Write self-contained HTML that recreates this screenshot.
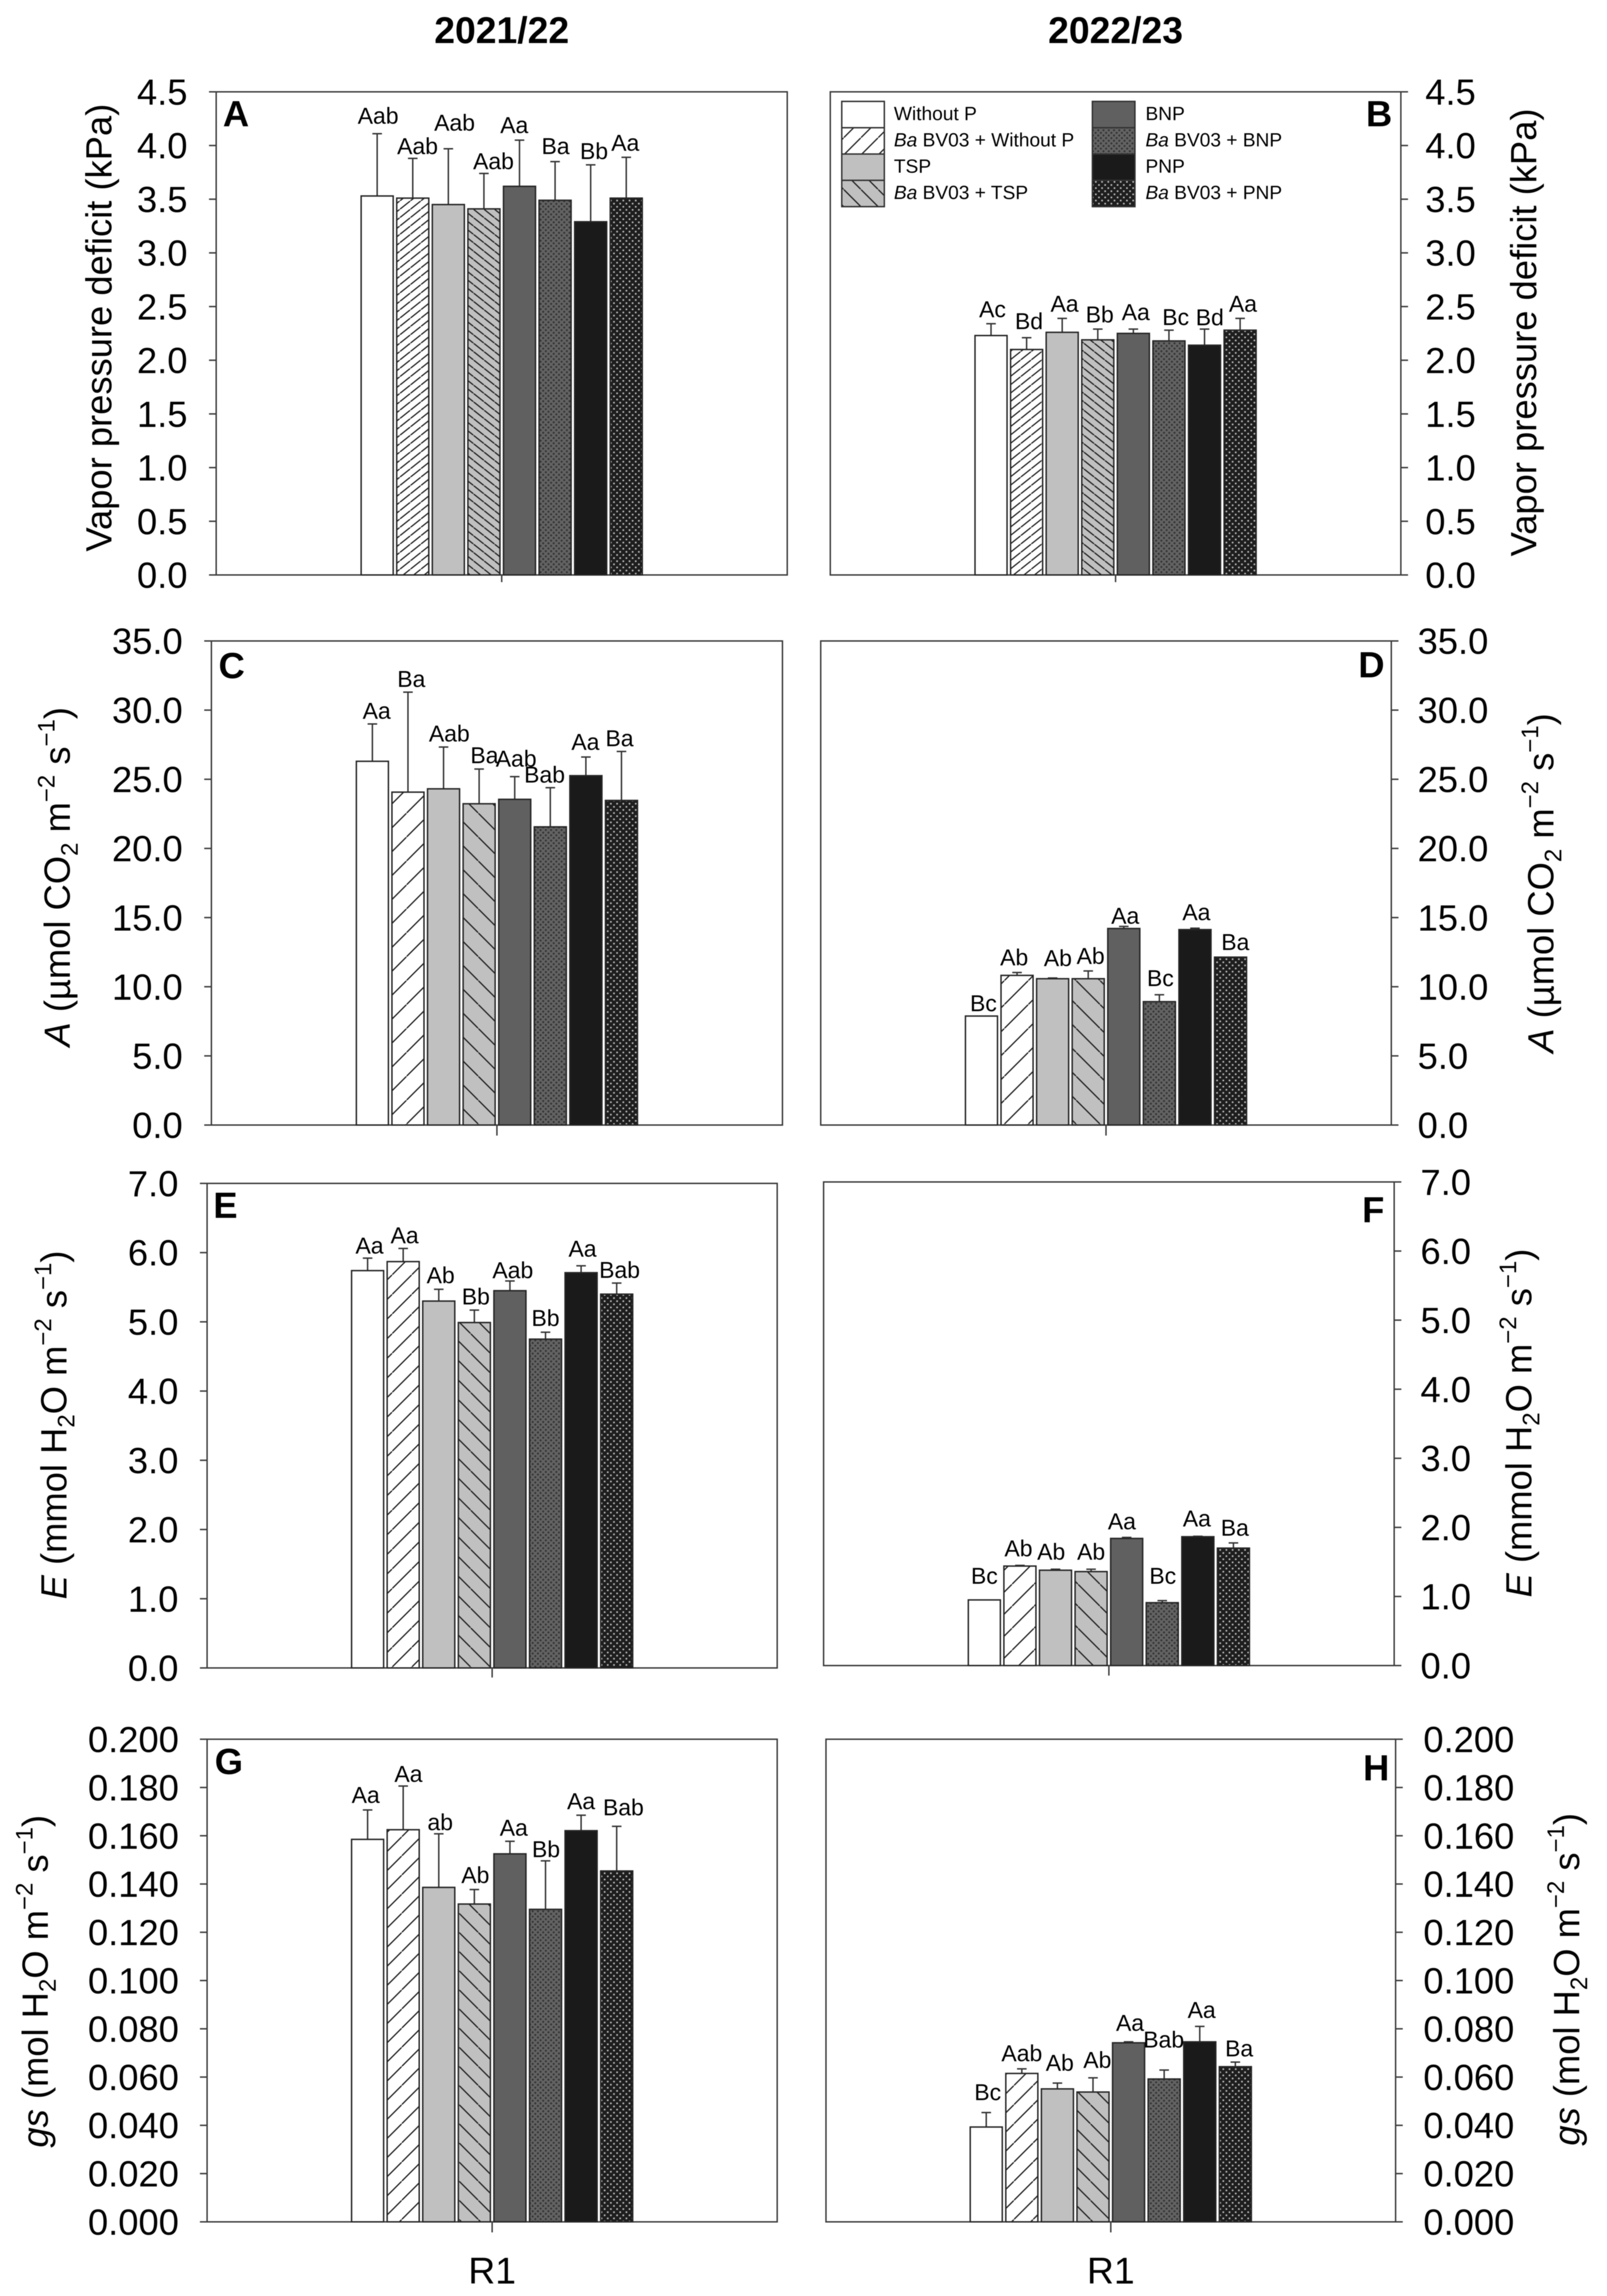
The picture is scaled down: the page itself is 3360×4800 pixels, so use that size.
<!DOCTYPE html>
<html lang="en">
<head>
<meta charset="utf-8">
<title>Vapor pressure deficit, A, E and gs by season</title>
<style>
html,body{margin:0;padding:0;background:#fff;width:3360px;height:4800px;overflow:hidden}
svg{display:block;filter:blur(0.9px)}
text{font-family:"Liberation Sans",Arial,sans-serif;fill:#000}
</style>
</head>
<body>
<svg id="fig" width="3360" height="4800" viewBox="0 0 3360 4800" xmlns="http://www.w3.org/2000/svg"><defs id="defs"></defs></svg>
<script>
/* ---------- DATA ---------- */
const categories = ["Without P","Ba BV03 + Without P","TSP","Ba BV03 + TSP","BNP","Ba BV03 + BNP","PNP","Ba BV03 + PNP"];

const vpdTicks = ["0.0","0.5","1.0","1.5","2.0","2.5","3.0","3.5","4.0","4.5"];
const aTicks   = ["0.0","5.0","10.0","15.0","20.0","25.0","30.0","35.0"];
const eTicks   = ["0.0","1.0","2.0","3.0","4.0","5.0","6.0","7.0"];
const gsTicks  = ["0.000","0.020","0.040","0.060","0.080","0.100","0.120","0.140","0.160","0.180","0.200"];

const valuesA = [3.53,3.51,3.45,3.41,3.62,3.49,3.29,3.51];
const errTopA = [4.11,3.88,3.97,3.74,4.05,3.85,3.82,3.89];
const lettersA = ["Aab","Aab","Aab","Aab","Aa","Ba","Bb","Aa"];

const valuesB = [2.23,2.10,2.26,2.19,2.25,2.18,2.14,2.28];
const errTopB = [2.34,2.21,2.39,2.29,2.29,2.28,2.29,2.39];
const lettersB = ["Ac","Bd","Aa","Bb","Aa","Bc","Bd","Aa"];

const valuesC = [26.3,24.07,24.31,23.23,23.55,21.56,25.26,23.47];
const errTopC = [29.0,31.3,27.33,25.74,25.19,24.39,26.61,27.01];
const lettersC = ["Aa","Ba","Aab","Ba","Aab","Bab","Aa","Ba"];

const valuesD = [7.88,10.82,10.58,10.58,14.21,8.92,14.13,12.14];
const errTopD = [7.88,11.03,10.63,11.14,14.36,9.42,14.23,12.14];
const lettersD = ["Bc","Ab","Ab","Ab","Aa","Bc","Aa","Ba"];

const valuesE = [5.74,5.87,5.30,4.99,5.45,4.75,5.71,5.40];
const errTopE = [5.92,6.06,5.47,5.17,5.59,4.85,5.81,5.56];
const lettersE = ["Aa","Aa","Ab","Bb","Aab","Bb","Aa","Bab"];

const valuesF = [0.95,1.44,1.38,1.36,1.84,0.91,1.865,1.70];
const errTopF = [0.95,1.45,1.394,1.394,1.855,0.94,1.871,1.775];
const lettersF = ["Bc","Ab","Ab","Ab","Aa","Bc","Aa","Ba"];

const valuesG = [0.1585,0.1625,0.1386,0.1317,0.1525,0.1295,0.1621,0.1454];
const errTopG = [0.1707,0.1806,0.1608,0.1377,0.1577,0.1496,0.1685,0.1639];
const lettersG = ["Aa","Aa","ab","Ab","Aa","Bb","Aa","Bab"];

const valuesH = [0.0393,0.0615,0.0551,0.0538,0.0742,0.0592,0.0746,0.0643];
const errTopH = [0.0453,0.0634,0.0575,0.0597,0.0746,0.0629,0.0810,0.0662];
const lettersH = ["Bc","Aab","Ab","Ab","Aa","Bab","Aa","Ba"];

/* ---------- TITLE TEXT ---------- */
const titleVpd = [["Vapor pressure deficit (kPa)"]];
const titleA = [["A","i"],[" (\u00B5mol CO"],["2","sub"],[" m"],["\u22122","sup"],[" s"],["\u22121","sup"],[")"]];
const titleE = [["E","i"],[" (mmol H"],["2","sub"],["O m"],["\u22122","sup"],[" s"],["\u22121","sup"],[")"]];
const titleGs = [["gs","i"],[" (mol H"],["2","sub"],["O m"],["\u22122","sup"],[" s"],["\u22121","sup"],[")"]];

/* ---------- LAYOUT (panel frames, not data) ---------- */
const STEP = 74.4, BAR_W = 67, TICK_LEN = 15;
const panels = [
 {id:"A",season:"2021/22",side:"left", l:452, r:1646,t:192, b:1202,stem:15,max:4.5, ticks:vpdTicks,values:valuesA,errors:errTopA,letters:lettersA,tickX:392, title:titleVpd,titleX:233, titleY:685, hatchS:17.5,hatchW:22,letterX:466, letterY:264, nudge:[[2,-21],[10,-9],[13,-38],[20,-9],[-11,-15],[1,-16],[7,-12],[-2,-14]]},
 {id:"B",season:"2022/23",side:"right",l:1736,r:2929,t:192, b:1202,stem:15,max:4.5, ticks:vpdTicks,values:valuesB,errors:errTopB,letters:lettersB,tickX:2980,title:titleVpd,titleX:3212,titleY:695, hatchS:17.5,hatchW:22,letterX:2856,letterY:264, nudge:[[3,-14],[5,-18],[5,-14],[4,-14],[5,-19],[14,-11],[11,-8],[6,-14]]},
 {id:"C",side:"left", l:442, r:1636,t:1340,b:2352,stem:22,max:35,  ticks:aTicks,  values:valuesC,errors:errTopC,letters:lettersC,tickX:382, title:titleA,  titleX:146, titleY:1833,hatchS:50,hatchW:50,letterX:457, letterY:1418,nudge:[[9,-11],[7,-11],[12,-12],[11,-12],[3,-21],[-12,-11],[-1,-15],[-4,-11]]},
 {id:"D",side:"right",l:1716,r:2909,t:1340,b:2352,stem:22,max:35,  ticks:aTicks,  values:valuesD,errors:errTopD,letters:lettersD,tickX:2964,title:titleA,  titleX:3248,titleY:1846,hatchS:50,hatchW:50,letterX:2840,letterY:1416,nudge:[[4,-10],[-6,-15],[11,-25],[5,-15],[3,-6],[2,-18],[3,-17],[10,-15]]},
 {id:"E",side:"left", l:433, r:1625,t:2474,b:3487,stem:20,max:7,   ticks:eTicks,  values:valuesE,errors:errTopE,letters:lettersE,tickX:373, title:titleE,  titleX:139, titleY:2979,hatchS:41,hatchW:41,letterX:446, letterY:2546,nudge:[[4,-10],[3,-11],[4,-13],[3,-12],[6,-6],[0,-13],[3,-19],[6,-11]]},
 {id:"F",side:"right",l:1722,r:2915,t:2471,b:3482,stem:21,max:7,   ticks:eTicks,  values:valuesF,errors:errTopF,letters:lettersF,tickX:2970,title:titleE,  titleX:3202,titleY:2975,hatchS:46,hatchW:46,letterX:2848,letterY:2555,nudge:[[0,-34],[-3,-19],[-9,-20],[0,-20],[-10,-17],[1,-35],[-2,-21],[3,-15]]},
 {id:"G",side:"left", l:433, r:1625,t:3636,b:4645,stem:22,max:0.2, ticks:gsTicks, values:valuesG,errors:errTopG,letters:lettersG,tickX:374, title:titleGs, titleX:100, titleY:4142,hatchS:40,hatchW:40,letterX:449, letterY:3709,nudge:[[-4,-15],[11,-9],[3,-8],[2,-14],[8,-12],[1,-8],[0,-13],[14,-23]],xLabel:"R1"},
 {id:"H",side:"right",l:1727,r:2918,t:3636,b:4645,stem:22,max:0.2, ticks:gsTicks, values:valuesH,errors:errTopH,letters:lettersH,tickX:2976,title:titleGs, titleX:3302,titleY:4138,hatchS:40,hatchW:40,letterX:2850,letterY:3722,nudge:[[3,-26],[0,-16],[5,-26],[9,-21],[3,-23],[-1,-47],[4,-18],[8,-12]],xLabel:"R1"}
];

/* ---------- HELPERS ---------- */
const NS = "http://www.w3.org/2000/svg";
const svg = document.getElementById("fig");
const defs = document.getElementById("defs");
const AXIS = "#3c3c3c", EDGE = "#262626";
function mk(tag, attrs, parent){
  const n = document.createElementNS(NS, tag);
  for (const k in attrs) n.setAttribute(k, attrs[k]);
  (parent || svg).appendChild(n);
  return n;
}
function hatchDefs(id, w, h, sw){
  return '<pattern id="hf'+id+'" patternUnits="userSpaceOnUse" width="'+w+'" height="'+h+'"><rect width="'+w+'" height="'+h+'" fill="#fff"/><path d="M'+(-w)+','+(2*h)+'L'+(2*w)+','+(-h)+'" stroke="#222" stroke-width="'+sw+'"/></pattern>'
       + '<pattern id="hb'+id+'" patternUnits="userSpaceOnUse" width="'+w+'" height="'+h+'"><rect width="'+w+'" height="'+h+'" fill="#c0c0c0"/><path d="M'+(-w)+','+(-h)+'L'+(2*w)+','+(2*h)+'" stroke="#222" stroke-width="'+sw+'"/></pattern>';
}
let defsHtml =
  '<pattern id="dotMid" patternUnits="userSpaceOnUse" width="11" height="11"><rect width="11" height="11" fill="#626262"/><circle cx="2.75" cy="2.75" r="2.1" fill="#333"/><circle cx="8.25" cy="8.25" r="2.1" fill="#333"/></pattern>'
  + '<pattern id="dotDark" patternUnits="userSpaceOnUse" width="13" height="13"><rect width="13" height="13" fill="#1e1e1e"/><circle cx="3.25" cy="3.25" r="1.9" fill="#b8b8b8"/><circle cx="9.75" cy="9.75" r="1.9" fill="#b8b8b8"/></pattern>';
panels.forEach(function(p){ defsHtml += hatchDefs(p.id, p.hatchW, p.hatchS, 2.6); });
defsHtml += hatchDefs("Leg", 36, 36, 2.6);
defs.innerHTML = defsHtml;

function fillFor(i, pid){
  return ["#ffffff","url(#hf"+pid+")","#c0c0c0","url(#hb"+pid+")","#606060","url(#dotMid)","#1a1a1a","url(#dotDark)"][i];
}
function slug(s){ return s.toLowerCase().replace(/[^a-z0-9]+/g,"-").replace(/^-|-$/g,""); }

function addParts(textEl, parts, fs){
  let shift = 0;
  parts.forEach(function(part, idx){
    const ts = mk("tspan", {}, textEl);
    const kind = part[1];
    let target = 0;
    if (kind === "sub"){ target = fs*0.22; ts.setAttribute("font-size", fs*0.66); }
    if (kind === "sup"){ target = -fs*0.42; ts.setAttribute("font-size", fs*0.66); }
    if (kind === "i"){ ts.setAttribute("font-style", "italic"); }
    if (target !== shift){ ts.setAttribute("dy", target - shift); shift = target; }
    ts.textContent = part[0];
  });
}

/* ---------- DRAW PANELS ---------- */
panels.forEach(function(p){
  const g = mk("g", {});
  
  

  const scaleY = function(v){ return p.b - (v / p.max) * (p.b - p.t); };
  const centre = (p.l + p.r) / 2;
  const scaleX = function(i){ return centre + (i - (categories.length - 1) / 2) * STEP; };

  if (p.season){
    const st = mk("text", {x:centre, y:90, "text-anchor":"middle", "font-size":78, "font-weight":"bold"}, g);
    
    
    st.textContent = p.season;
  }

  /* frame */
  const frame = mk("rect", {x:p.l, y:p.t, width:p.r-p.l, height:p.b-p.t, fill:"#fff", stroke:AXIS, "stroke-width":3}, g);
  
  

  /* bars + error bars + letters */
  categories.forEach(function(cat, i){
    const cx = scaleX(i);
    const top = scaleY(p.values[i]);
    const errY = scaleY(p.errors[i]);
    if (p.errors[i] > p.values[i]){
      const eb = mk("path", {d:"M"+cx+","+top+"V"+errY+"M"+(cx-10)+","+errY+"H"+(cx+10), fill:"none", stroke:"#333", "stroke-width":3}, g);
      
      
    }
    const bar = mk("rect", {x:cx-BAR_W/2, y:top, width:BAR_W, height:p.b-top, fill:fillFor(i,p.id), stroke:EDGE, "stroke-width":3}, g);
    
    
    const lab = mk("text", {x:cx+p.nudge[i][0], y:errY+p.nudge[i][1], "text-anchor":"middle", "font-size":48}, g);
    
    
    lab.textContent = p.letters[i];
  });

  /* y ticks */
  p.ticks.forEach(function(lbl){
    const yy = scaleY(parseFloat(lbl));
    const x2 = p.side === "left" ? p.l - TICK_LEN : p.r + TICK_LEN;
    const x1 = p.side === "left" ? p.l : p.r;
    const tk = mk("line", {x1:x1, x2:x2, y1:yy, y2:yy, stroke:AXIS, "stroke-width":3}, g);
    
    
    const tl = mk("text", {x:p.tickX, y:yy+27, "text-anchor":p.side === "left" ? "end" : "start", "font-size":76}, g);
    
    
    tl.textContent = lbl;
  });

  /* x centre tick */
  const xt = mk("line", {x1:centre, x2:centre, y1:p.b, y2:p.b+p.stem, stroke:AXIS, "stroke-width":3}, g);
  
  

  if (p.xLabel){
    const xl = mk("text", {x:centre, y:4774, "text-anchor":"middle", "font-size":78}, g);
    
    
    xl.textContent = p.xLabel;
  }

  /* panel letter */
  const pl = mk("text", {x:p.letterX, y:p.letterY, "font-size":76, "font-weight":"bold"}, g);
  
  
  pl.textContent = p.id;

  /* y title */
  const yt = mk("text", {transform:"translate("+p.titleX+","+p.titleY+") rotate(-90)", "text-anchor":"middle", "font-size":76}, g);
  
  
  addParts(yt, p.title, 76);
});

/* ---------- LEGEND ---------- */
const legendCols = [{swatchX:1760, textX:1869, start:0},{swatchX:2284, textX:2395, start:4}];
const legendRowTop = 212, legendRowH = 55, swatchW = 89;
const legend = mk("g", {});


legendCols.forEach(function(col){
  for (let r = 0; r < 4; r++){
    const idx = col.start + r;
    const cat = categories[idx];
    const sw = mk("rect", {x:col.swatchX, y:legendRowTop+r*legendRowH, width:swatchW, height:legendRowH, fill:fillFor(idx,"Leg"), stroke:"#333", "stroke-width":3}, legend);
    
    
    const tx = mk("text", {x:col.textX, y:legendRowTop+r*legendRowH+39, "font-size":40}, legend);
    
    
    if (cat.indexOf("Ba ") === 0){
      addParts(tx, [["Ba","i"],[cat.slice(2)]], 40);
    } else {
      tx.textContent = cat;
    }
  }
});
</script>
</body>
</html>
